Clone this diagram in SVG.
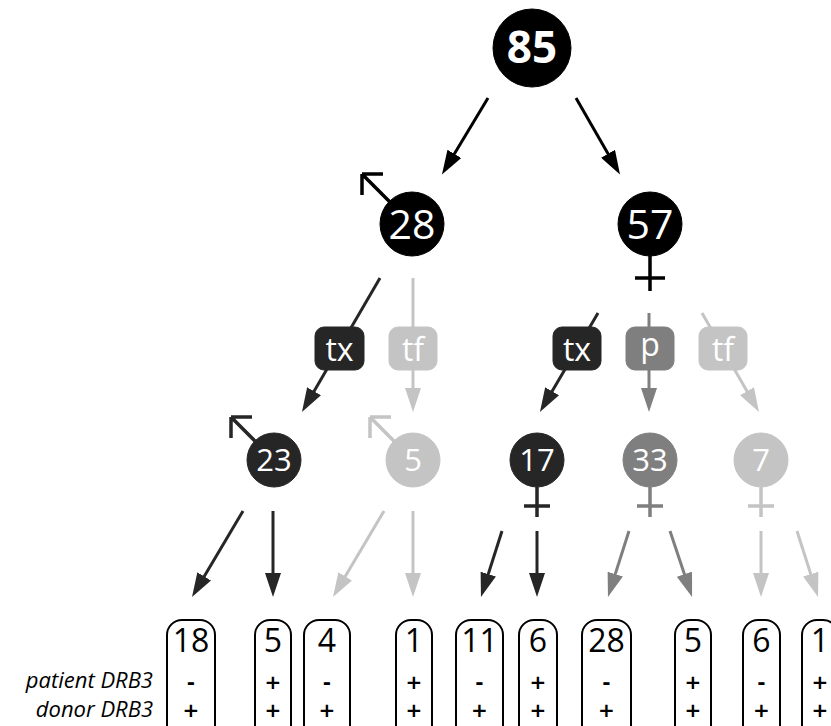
<svg xmlns="http://www.w3.org/2000/svg" width="831" height="726" viewBox="0 0 831 726">
<style>
text{font-family:"Open Sans","Noto Sans","Liberation Sans",sans-serif;}
.wt{fill:#fff;text-anchor:middle;}
.n1{font-size:44px;font-weight:bold;}
.n2{font-size:41px;}
.n3{font-size:31px;}
.bx{font-size:32px;}
.leaf rect{fill:#fff;stroke:#000;stroke-width:2;}
.leaf text{fill:#000;text-anchor:middle;}
.ln{font-size:32px;}
.leaf text.sg{font-family:"DejaVu Sans","Liberation Sans",sans-serif;font-size:20px;font-weight:bold;}
.lab{font-size:22px;font-style:italic;text-anchor:end;fill:#000;}
.k0{fill:#000;stroke:#000;}
.k1{fill:#262626;stroke:#262626;}
.k2{fill:#7f7f7f;stroke:#7f7f7f;}
.k3{fill:#c4c4c4;stroke:#c4c4c4;}
.sym{fill:none;stroke-width:3.5;}
#connectors line{stroke-width:3;}
</style>
<defs>
<marker id="a0" viewBox="0 0 24 16" refX="15" refY="8" markerWidth="24" markerHeight="16" markerUnits="userSpaceOnUse" orient="auto"><path d="M0,0 L24,8 L0,16 z" fill="#000"/></marker>
<marker id="a1" viewBox="0 0 24 16" refX="15" refY="8" markerWidth="24" markerHeight="16" markerUnits="userSpaceOnUse" orient="auto"><path d="M0,0 L24,8 L0,16 z" fill="#262626"/></marker>
<marker id="a2" viewBox="0 0 24 16" refX="15" refY="8" markerWidth="24" markerHeight="16" markerUnits="userSpaceOnUse" orient="auto"><path d="M0,0 L24,8 L0,16 z" fill="#7f7f7f"/></marker>
<marker id="a3" viewBox="0 0 24 16" refX="15" refY="8" markerWidth="24" markerHeight="16" markerUnits="userSpaceOnUse" orient="auto"><path d="M0,0 L24,8 L0,16 z" fill="#c4c4c4"/></marker>
</defs>
<rect width="831" height="726" fill="#fff"/>

<g id="connectors">
<line x1="488" y1="98" x2="446.6" y2="166.7" stroke="#000" marker-end="url(#a0)"/>
<line x1="576" y1="98" x2="615.5" y2="166.7" stroke="#000" marker-end="url(#a0)"/>
<line x1="380" y1="278" x2="306.5" y2="404.2" stroke="#262626" marker-end="url(#a1)"/>
<line x1="413" y1="278" x2="413" y2="403" stroke="#c4c4c4" marker-end="url(#a3)"/>
<line x1="598" y1="313" x2="544.5" y2="404.2" stroke="#262626" marker-end="url(#a1)"/>
<line x1="649" y1="313" x2="649" y2="403" stroke="#7f7f7f" marker-end="url(#a2)"/>
<line x1="702" y1="313" x2="754.5" y2="404.2" stroke="#c4c4c4" marker-end="url(#a3)"/>
<line x1="243" y1="511" x2="196.6" y2="589.3" stroke="#262626" marker-end="url(#a1)"/>
<line x1="273" y1="511" x2="273" y2="588" stroke="#262626" marker-end="url(#a1)"/>
<line x1="384" y1="511" x2="337.6" y2="589.3" stroke="#c4c4c4" marker-end="url(#a3)"/>
<line x1="413" y1="511" x2="413" y2="588" stroke="#c4c4c4" marker-end="url(#a3)"/>
<line x1="502" y1="531" x2="483.7" y2="588.4" stroke="#262626" marker-end="url(#a1)"/>
<line x1="537" y1="531" x2="537" y2="588" stroke="#262626" marker-end="url(#a1)"/>
<line x1="629" y1="531" x2="610.7" y2="588.4" stroke="#7f7f7f" marker-end="url(#a2)"/>
<line x1="670" y1="531" x2="689.2" y2="588.4" stroke="#7f7f7f" marker-end="url(#a2)"/>
<line x1="761" y1="531" x2="761" y2="588" stroke="#c4c4c4" marker-end="url(#a3)"/>
<line x1="797" y1="531" x2="815.3" y2="588.4" stroke="#c4c4c4" marker-end="url(#a3)"/>
</g>

<g id="n85"><circle cx="532" cy="48" r="39" class="k0"/><text x="532" y="63" class="wt n1">85</text></g>

<g id="n28"><circle cx="412" cy="224" r="32" class="k0"/><text x="412" y="239" class="wt n2">28</text>
<path d="M389.4,201.4 L362,174 M362,174 L383,174 M362,174 L362,195" class="sym" stroke="#000"/></g>

<g id="n57"><circle cx="650" cy="224" r="32" class="k0"/><text x="650" y="239" class="wt n2">57</text>
<path d="M650,256 L650,291 M635,278 L665,278" class="sym" stroke="#000"/></g>

<g id="tx1"><rect x="315" y="327" width="49" height="43" rx="9" class="k1"/><text x="339.5" y="361" class="wt bx">tx</text></g>
<g id="tf1"><rect x="389" y="327" width="48" height="43" rx="9" class="k3"/><text x="413" y="361" class="wt bx">tf</text></g>
<g id="tx2"><rect x="553" y="327" width="48" height="43" rx="9" class="k1"/><text x="577" y="361" class="wt bx">tx</text></g>
<g id="p2"><rect x="626" y="327" width="48" height="43" rx="9" class="k2"/><text x="650" y="356" class="wt bx">p</text></g>
<g id="tf2"><rect x="699" y="327" width="48" height="43" rx="9" class="k3"/><text x="723" y="361" class="wt bx">tf</text></g>

<g id="n23"><circle cx="274" cy="460" r="27" class="k1"/><text x="274" y="471" class="wt n3">23</text>
<path d="M254.9,440.9 L231,417 M231,417 L252,417 M231,417 L231,438" class="sym" stroke="#262626"/></g>
<g id="n5"><circle cx="413" cy="460" r="27" class="k3"/><text x="413" y="471" class="wt n3">5</text>
<path d="M393.9,440.9 L370,417 M370,417 L391,417 M370,417 L370,438" class="sym" stroke="#c4c4c4"/></g>
<g id="n17"><circle cx="537" cy="460" r="27" class="k1"/><text x="537" y="471" class="wt n3">17</text>
<path d="M537,487 L537,517 M524,506 L550,506" class="sym" stroke="#262626"/></g>
<g id="n33"><circle cx="650" cy="460" r="27" class="k2"/><text x="650" y="471" class="wt n3">33</text>
<path d="M650,487 L650,517 M637,506 L663,506" class="sym" stroke="#7f7f7f"/></g>
<g id="n7"><circle cx="761" cy="460" r="27" class="k3"/><text x="761" y="471" class="wt n3">7</text>
<path d="M761,487 L761,517 M748,506 L774,506" class="sym" stroke="#c4c4c4"/></g>

<g id="labels"><text x="153" y="688" class="lab">patient DRB3</text><text x="153" y="717" class="lab">donor DRB3</text></g>

<g id="l18" class="leaf"><rect x="167" y="620" width="48" height="125" rx="15"/><text x="191" y="689" class="sg">-</text><text x="191" y="717" class="sg">+</text><text x="191" y="652" class="ln">18</text></g>
<g id="l5a" class="leaf"><rect x="255" y="620" width="36" height="125" rx="15"/><text x="273" y="652" class="ln">5</text><text x="273" y="689" class="sg">+</text><text x="273" y="717" class="sg">+</text></g>
<g id="l4" class="leaf"><rect x="304" y="620" width="46" height="125" rx="15"/><text x="327" y="652" class="ln">4</text><text x="327" y="689" class="sg">-</text><text x="327" y="717" class="sg">+</text></g>
<g id="l1a" class="leaf"><rect x="396" y="620" width="36" height="125" rx="15"/><text x="414" y="652" class="ln">1</text><text x="414" y="689" class="sg">+</text><text x="414" y="717" class="sg">+</text></g>
<g id="l11" class="leaf"><rect x="456" y="620" width="47" height="125" rx="15"/><text x="479.5" y="652" class="ln">11</text><text x="479.5" y="689" class="sg">-</text><text x="479.5" y="717" class="sg">+</text></g>
<g id="l6a" class="leaf"><rect x="519" y="620" width="38" height="125" rx="15"/><text x="538" y="652" class="ln">6</text><text x="538" y="689" class="sg">+</text><text x="538" y="717" class="sg">+</text></g>
<g id="l28" class="leaf"><rect x="582" y="620" width="49" height="125" rx="15"/><text x="606.5" y="652" class="ln">28</text><text x="606.5" y="689" class="sg">-</text><text x="606.5" y="717" class="sg">+</text></g>
<g id="l5b" class="leaf"><rect x="675" y="620" width="36" height="125" rx="15"/><text x="693" y="652" class="ln">5</text><text x="693" y="689" class="sg">+</text><text x="693" y="717" class="sg">+</text></g>
<g id="l6b" class="leaf"><rect x="743" y="620" width="37" height="125" rx="15"/><text x="761.5" y="652" class="ln">6</text><text x="761.5" y="689" class="sg">-</text><text x="761.5" y="717" class="sg">+</text></g>
<g id="l1b" class="leaf"><rect x="802" y="620" width="36" height="125" rx="15"/><text x="820" y="652" class="ln">1</text><text x="820" y="689" class="sg">+</text><text x="820" y="717" class="sg">+</text></g>
</svg>
